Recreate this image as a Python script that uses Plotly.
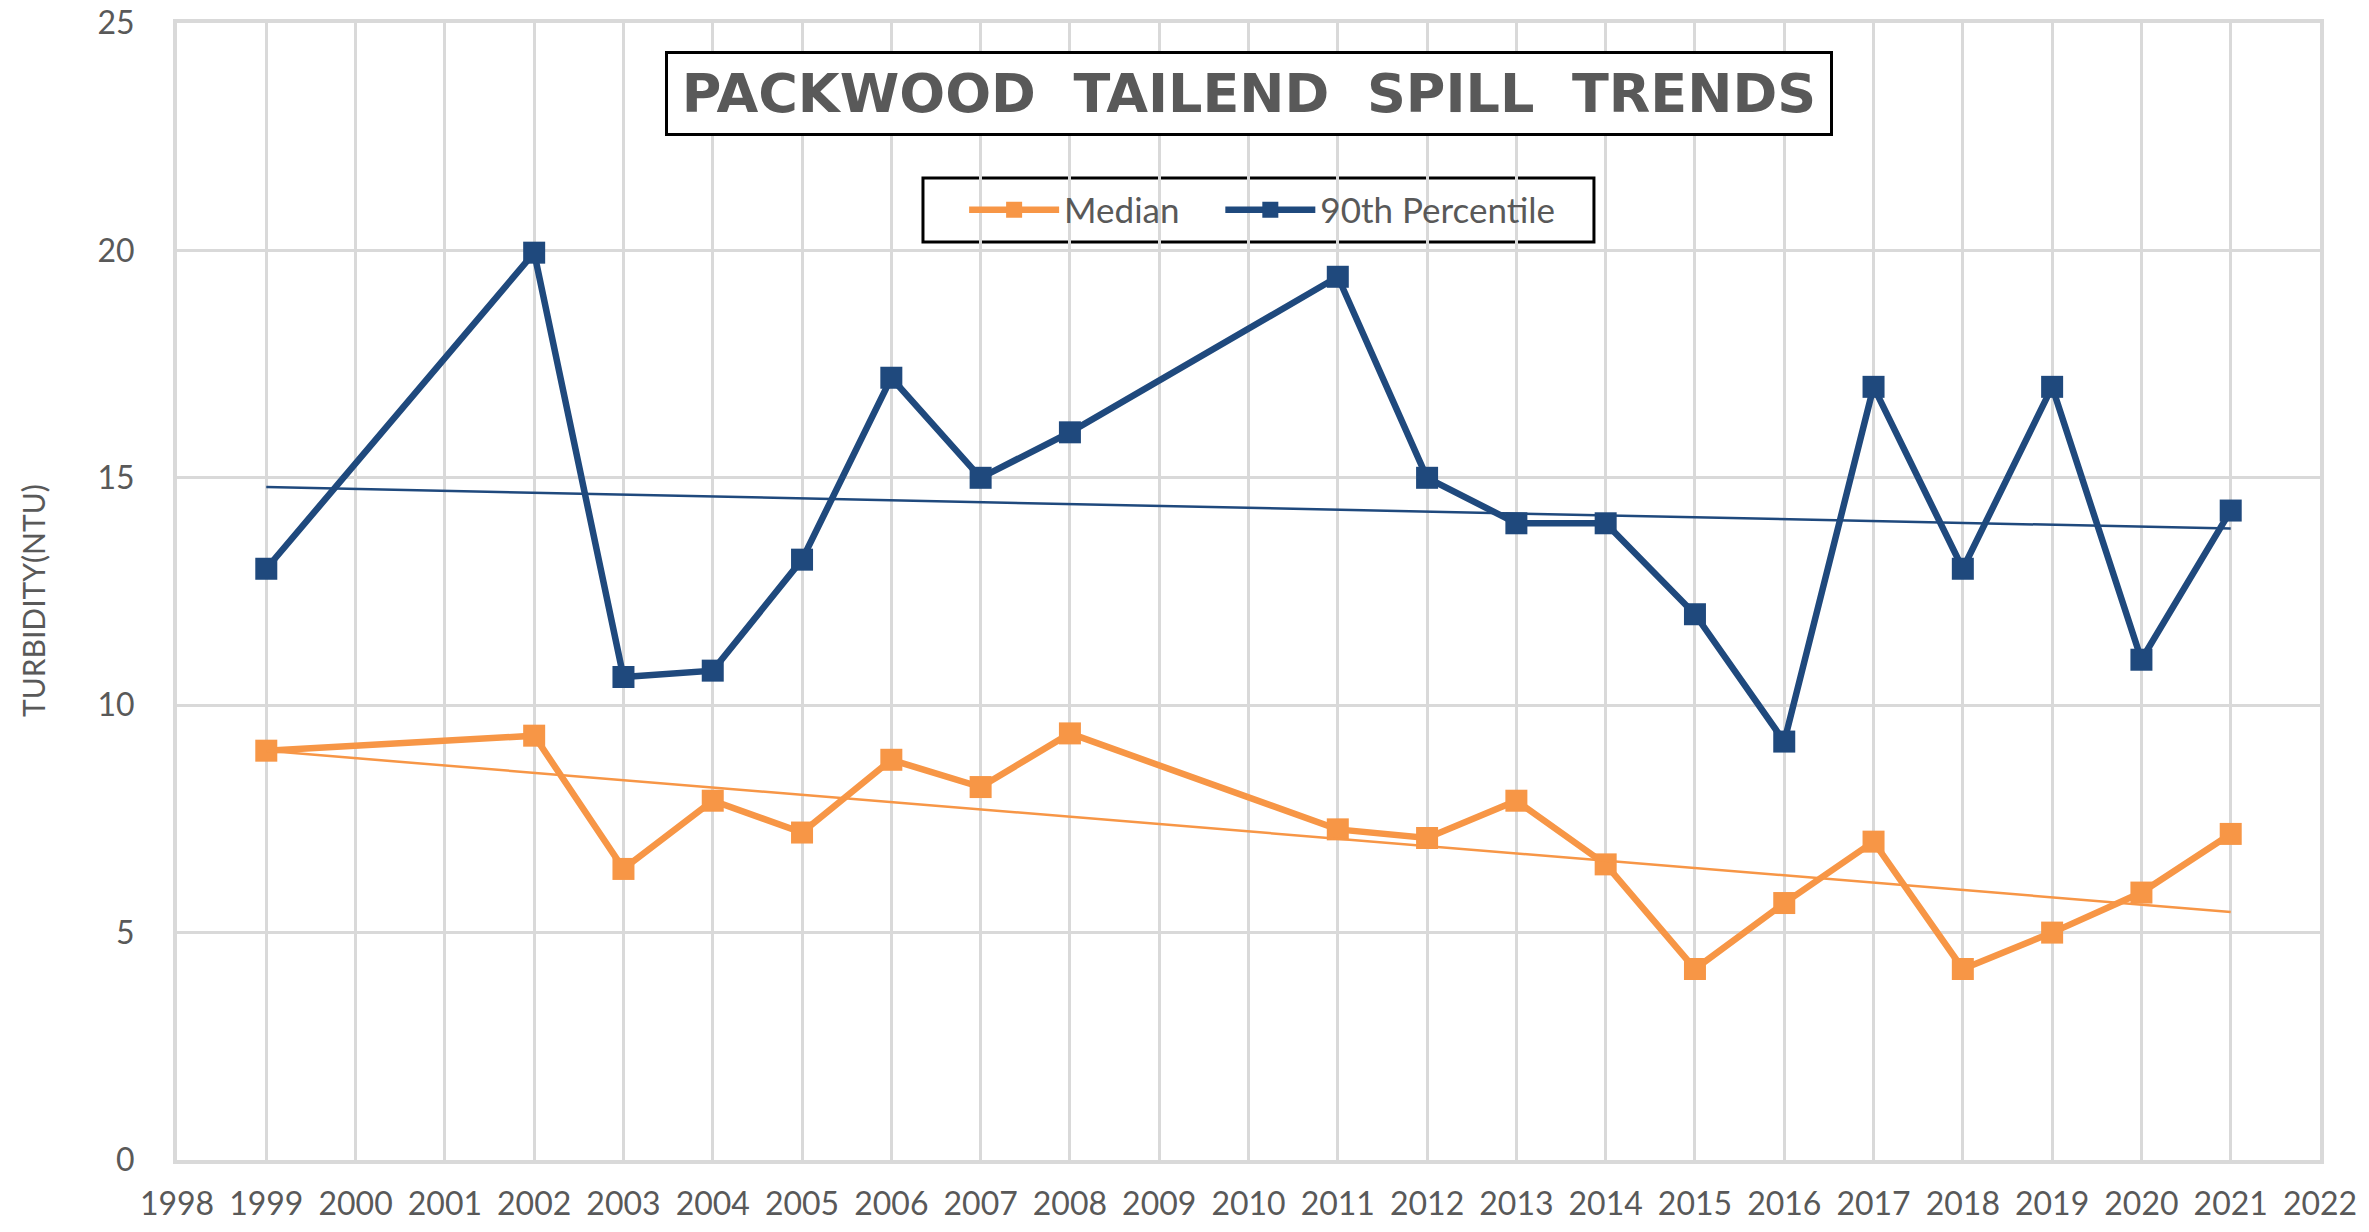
import numpy as np
import plotly.graph_objects as go

years = [1999, 2002, 2003, 2004, 2005, 2006, 2007, 2008, 2011, 2012,
         2013, 2014, 2015, 2016, 2017, 2018, 2019, 2020, 2021]
median = [9.0, 9.33, 6.4, 7.9, 7.2, 8.8, 8.2, 9.38, 7.27, 7.08,
          7.9, 6.5, 4.2, 5.65, 7.0, 4.2, 5.0, 5.88, 7.17]
p90 = [13.0, 19.95, 10.62, 10.76, 13.2, 17.2, 15.0, 16.0, 19.42, 15.0,
       14.0, 14.0, 12.0, 9.2, 17.0, 13.0, 17.0, 11.0, 14.28]

x_ticks = list(range(1998, 2023))
y_ticks = [0, 5, 10, 15, 20, 25]

title_text = "PACKWOOD\u00a0\u00a0TAILEND\u00a0\u00a0SPILL\u00a0\u00a0TRENDS"
y_title = "TURBIDITY(NTU)"
series_names = ["Median", "90th Percentile"]

ORANGE = "#F79646"
BLUE = "#1F497D"
GRID = "#D9D9D9"
TEXT = "#595959"

fig = go.Figure()
fig.add_trace(go.Scatter(
    x=years, y=median, name=series_names[0] + "\u00a0" * 4, mode="lines+markers",
    line=dict(color=ORANGE, width=6.5),
    marker=dict(symbol="square", size=22, color=ORANGE),
))
fig.add_trace(go.Scatter(
    x=years, y=p90, name=series_names[1], mode="lines+markers",
    line=dict(color=BLUE, width=6.5),
    marker=dict(symbol="square", size=22, color=BLUE),
))

# linear trendlines (least squares fit)
xs = np.array(years, dtype=float)
tx = [min(years), max(years)]
for vals, col in [(median, ORANGE), (p90, BLUE)]:
    k, b = np.polyfit(xs, np.array(vals, dtype=float), 1)
    fig.add_trace(go.Scatter(
        x=tx, y=[k * t + b for t in tx], mode="lines",
        line=dict(color=col, width=2.5), showlegend=False, hoverinfo="skip",
    ))

# chart title in a framed box
fig.add_annotation(
    text="<b>" + title_text + "</b>", xref="paper", yref="paper",
    x=0.5002, y=0.938, xanchor="center", yanchor="middle", showarrow=False,
    font=dict(family="DejaVu Sans", size=54, color=TEXT),
    width=1154, height=71,
    bordercolor="black", borderwidth=3, borderpad=4, bgcolor="white",
)

# y-axis title
fig.add_annotation(
    text=y_title, xref="paper", yref="paper", x=-0.0672, y=0.4925,
    xanchor="center", yanchor="middle", showarrow=False, textangle=-90,
    font=dict(family="Lato", size=30, color=TEXT),
)

# legend frame
fig.add_shape(
    type="rect", xref="paper", yref="paper",
    x0=0.3481, x1=0.6612, y0=0.8074, y1=0.8637,
    line=dict(color="black", width=3), fillcolor="white", layer="between",
)

fig.update_layout(
    width=2369, height=1232,
    margin=dict(l=177, r=49, t=23, b=72),
    paper_bgcolor="white", plot_bgcolor="white",
    font=dict(family="Lato", color=TEXT),
    legend=dict(
        orientation="h", x=0.3673, y=0.8355, xanchor="left", yanchor="middle",
        bgcolor="rgba(0,0,0,0)", borderwidth=0,
        font=dict(family="Lato", size=35, color=TEXT),
        itemwidth=90,
    ),
    xaxis=dict(
        range=[1998, 2022], tickmode="array", tickvals=x_ticks,
        ticktext=[str(t) for t in x_ticks],
        showgrid=True, gridcolor=GRID, gridwidth=3,
        showline=True, mirror=True, linecolor=GRID, linewidth=4,
        zeroline=False, ticks="", ticklabelstandoff=13, automargin=False,
        ticklabeloverflow="allow",
        tickfont=dict(family="Lato", size=32, color=TEXT),
    ),
    yaxis=dict(
        range=[0, 25], tickmode="array", tickvals=y_ticks,
        showgrid=True, gridcolor=GRID, gridwidth=3,
        showline=True, mirror=True, linecolor=GRID, linewidth=4,
        zeroline=False, ticks="", ticklabelstandoff=32, automargin=False,
        ticklabeloverflow="allow",
        tickfont=dict(family="Lato", size=32, color=TEXT),
    ),
)

fig.write_html("out.html", config={"displayModeBar": False},
               post_script="document.body.style.margin='0';")
